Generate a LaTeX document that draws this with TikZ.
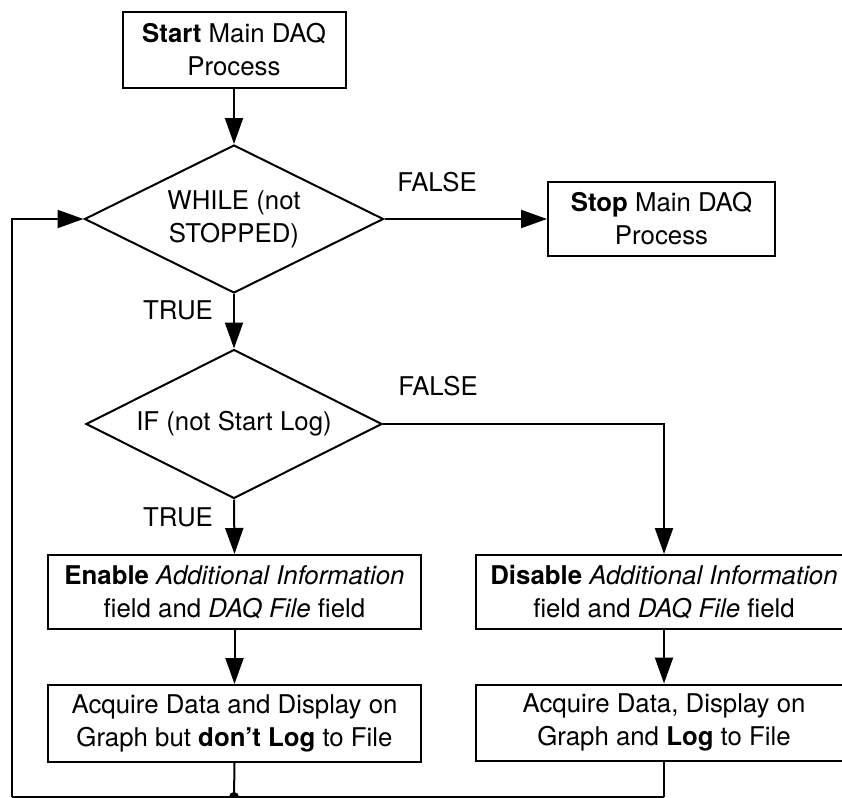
\documentclass[tikz,border=0pt]{standalone}
\usepackage{fontspec}
\setmainfont{TeX Gyre Heros}
\usetikzlibrary{shapes.geometric,arrows.meta}
\begin{document}
\begin{tikzpicture}[x=1pt,y=-1pt,
  every node/.style={font=\fontsize{25.8}{33}\selectfont, align=center},
  box/.style={draw, line width=2pt, inner sep=0pt},
  decision/.style={draw, diamond, aspect=2, line width=2pt, inner sep=0pt},
  flow/.style={line width=2pt, -{Triangle[length=26pt,width=18pt]}},
  link/.style={line width=2pt}]
\useasboundingbox (0,0) rectangle (842,797);
\clip (0,0) rectangle (842,797);

% process boxes and decisions
\node[box, minimum width=223pt, minimum height=76pt] (start) at (234,50)
  {\textbf{Start} Main DAQ\\Process};
\node[decision, minimum width=299pt, minimum height=148pt] (while) at (234,219)
  {WHILE (not\\STOPPED)};
\node[box, minimum width=227pt, minimum height=74pt] (stop) at (661.5,219)
  {\textbf{Stop} Main DAQ\\Process};
\node[decision, minimum width=296pt, minimum height=149pt] (if) at (234,424)
  {IF (not Start Log)};
\node[box, minimum width=373pt, minimum height=74pt] (enable) at (234.5,592)
  {\textbf{Enable} \textit{Additional Information}\\field and \textit{DAQ File} field};
\node[box, minimum width=376pt, minimum height=74pt] (disable) at (664,592)
  {\textbf{Disable} \textit{Additional Information}\\field and \textit{DAQ File} field};
\node[box, minimum width=373pt, minimum height=77pt] (acqA) at (234.5,723.5)
  {Acquire Data and Display on\\Graph but \textbf{don't Log} to File};
\node[box, minimum width=376pt, minimum height=76pt] (acqB) at (664,722.5)
  {Acquire Data, Display on\\Graph and \textbf{Log} to File};

% branch labels
\node (falseA) at (437,182) {FALSE};
\node (trueA) at (178,310) {TRUE};
\node (falseB) at (438,386) {FALSE};
\node (trueB) at (178,517) {TRUE};

% connectors
\draw[flow] (start.south) -- (while.north);
\draw[flow] (while.east) -- (stop.west);
\draw[flow] (while.south) -- (if.north);
\draw[flow] (if.south) -- (enable.north);
\draw[flow] (if.east) -| (disable.north);
\draw[flow] (enable.south) -- (acqA.north);
\draw[flow] (disable.south) -- (acqB.north);

% loop back to the WHILE test
\coordinate (joinA) at (234,797);
\coordinate (joinB) at (664,797);
\coordinate (joinL) at (12,797);
\draw[link] (acqA.south) -- (joinA);
\draw[link] (acqB.south) -- (joinB);
\draw[link] (joinB) -- (joinL);
\fill (joinA) circle (5pt);
\draw[flow] (joinL) |- (while.west);
\end{tikzpicture}
\end{document}
